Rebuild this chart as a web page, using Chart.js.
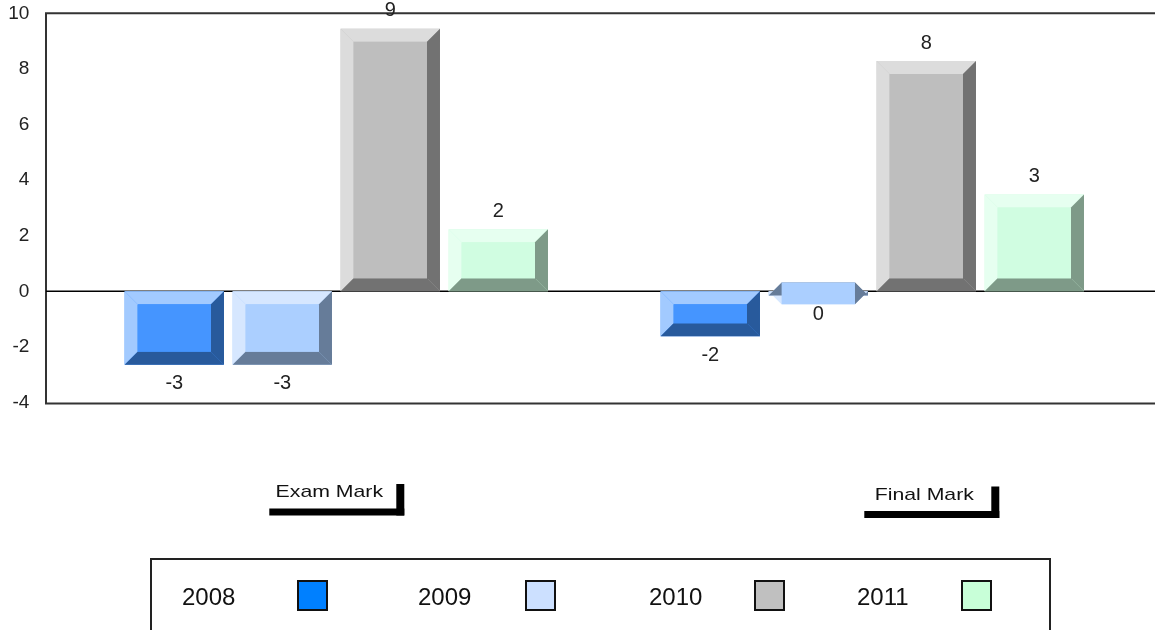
<!DOCTYPE html>
<html>
<head>
<meta charset="utf-8">
<title>Exam / Final Mark</title>
<script src="https://cdn.jsdelivr.net/npm/chart.js@4.4.1/dist/chart.umd.min.js"></script>
<style>
  html, body { margin: 0; padding: 0; background: #fff; }
  #wrap { width: 1155px; height: 630px; }
</style>
</head>
<body>
<div id="wrap"><canvas id="marksChart" width="1155" height="630"></canvas></div>
<script>
// Mark change per year, two categories, one series per year
const categories = ['Exam Mark', 'Final Mark'];
const years = ['2008', '2009', '2010', '2011'];
const values2008 = [-2.64, -1.62];
const values2009 = [-2.64, -0.15];
const values2010 = [9.44, 8.28];
const values2011 = [2.23, 3.48];
const yTicks = [10, 8, 6, 4, 2, 0, -2, -4];

// bevel colours per series (face / light edge / dark edge) and legend swatch
const faceColors = ['#4595ff', '#abcfff', '#bebebe', '#d0fde1'];
const lightColors = ['#a2caff', '#d6e7ff', '#dcdcdc', '#e6fff0'];
const darkColors = ['#285a9c', '#667c99', '#727272', '#7e9a88'];
const legendColors = ['#0080ff', '#cce0ff', '#c0c0c0', '#c8ffd8'];

const FONT = '"Liberation Sans", Arial, sans-serif';
const BEVEL = 13;

// fixed layout bits for the hand drawn parts
const catLabelShift = [-7, 52];
const catLabelDrop = [0, 2.5];
const legendTextX = [182, 418, 649, 857];
const legendBoxX = [298, 526, 755, 962];

function poly(ctx, color, pts) {
  ctx.fillStyle = color;
  ctx.beginPath();
  ctx.moveTo(pts[0][0], pts[0][1]);
  for (let k = 1; k < pts.length; k++) ctx.lineTo(pts[k][0], pts[k][1]);
  ctx.closePath();
  ctx.fill();
}

// frame + zero line, under the bars
const framePlugin = {
  id: 'frame',
  beforeDatasetsDraw(chart) {
    const { ctx, chartArea: a, scales: { y } } = chart;
    const left = a.left - 22.3;
    ctx.save();
    ctx.strokeStyle = '#333';
    ctx.lineWidth = 2;
    ctx.beginPath();
    ctx.moveTo(chart.width, a.top);
    ctx.lineTo(left, a.top);
    ctx.lineTo(left, a.bottom + 1);
    ctx.lineTo(chart.width, a.bottom + 1);
    ctx.stroke();
    const y0 = y.getPixelForValue(0);
    ctx.strokeStyle = '#000';
    ctx.lineWidth = 1.5;
    ctx.beginPath();
    ctx.moveTo(left, y0);
    ctx.lineTo(chart.width, y0);
    ctx.stroke();
    ctx.restore();
  }
};

// bevelled look + value labels on top of chart.js bars
const bevelPlugin = {
  id: 'bevel',
  afterDatasetsDraw(chart) {
    const ctx = chart.ctx;
    ctx.save();
    chart.data.datasets.forEach((ds, i) => {
      const meta = chart.getDatasetMeta(i);
      meta.data.forEach((bar, j) => {
        const { x, y, base, width } = bar.getProps(['x', 'y', 'base', 'width'], true);
        const x0 = x - width / 2, x1 = x + width / 2;
        const t = Math.min(y, base), b = Math.max(y, base);
        const e = BEVEL;
        poly(ctx, lightColors[i], [[x0, t], [x0 + e, t + e], [x0 + e, b - e], [x0, b]]);
        poly(ctx, lightColors[i], [[x0, t], [x1, t], [x1 - e, t + e], [x0 + e, t + e]]);
        poly(ctx, darkColors[i], [[x1, t], [x1, b], [x1 - e, b - e], [x1 - e, t + e]]);
        poly(ctx, darkColors[i], [[x0, b], [x1, b], [x1 - e, b - e], [x0 + e, b - e]]);
        ctx.fillStyle = faceColors[i];
        const it = Math.min(t + e, b - e), ib = Math.max(t + e, b - e);
        ctx.fillRect(x0 + e, it, width - 2 * e, ib - it);

        const v = ds.data[j];
        let txt = Math.round(v);
        if (txt === 0) txt = 0;
        ctx.fillStyle = '#222';
        ctx.font = '20px ' + FONT;
        ctx.textAlign = 'center';
        ctx.textBaseline = 'middle';
        ctx.fillText(String(txt), x, v >= 0 ? y - 18 : y + 19);
      });
    });
    ctx.restore();
  }
};

// category labels with the bracket marks, and the boxed legend
const extrasPlugin = {
  id: 'extras',
  afterDraw(chart) {
    const { ctx, scales: { x } } = chart;
    ctx.save();
    categories.forEach((name, i) => {
      const cx = x.getPixelForValue(i) + catLabelShift[i];
      const dy = catLabelDrop[i];
      ctx.fillStyle = '#111';
      ctx.font = '17px ' + FONT;
      ctx.textAlign = 'center';
      ctx.textBaseline = 'alphabetic';
      ctx.save();
      ctx.translate(cx, 497 + dy);
      ctx.scale(1.25, 1);
      ctx.fillText(name, 0, 0);
      ctx.restore();
      ctx.fillStyle = '#000';
      ctx.fillRect(cx - 60, 508.5 + dy, 135, 7);
      ctx.fillRect(cx + 67, 484 + dy, 8, 31.5);
    });

    ctx.strokeStyle = '#222';
    ctx.lineWidth = 2;
    ctx.beginPath();
    ctx.moveTo(151, chart.height + 5);
    ctx.lineTo(151, 559);
    ctx.lineTo(1050, 559);
    ctx.lineTo(1050, chart.height + 5);
    ctx.stroke();

    chart.data.datasets.forEach((ds, i) => {
      ctx.fillStyle = '#111';
      ctx.font = '24px ' + FONT;
      ctx.textAlign = 'left';
      ctx.textBaseline = 'alphabetic';
      ctx.fillText(ds.label, legendTextX[i], 604.5);
      ctx.fillStyle = legendColors[i];
      ctx.fillRect(legendBoxX[i], 581, 29, 29);
      ctx.strokeStyle = '#111';
      ctx.lineWidth = 2;
      ctx.strokeRect(legendBoxX[i], 581, 29, 29);
    });
    ctx.restore();
  }
};

const seriesValues = [values2008, values2009, values2010, values2011];

const ctx = document.getElementById('marksChart').getContext('2d');
new Chart(ctx, {
  type: 'bar',
  data: {
    labels: categories,
    datasets: years.map((yr, i) => ({
      label: yr,
      data: seriesValues[i],
      backgroundColor: faceColors[i],
      borderWidth: 0
    }))
  },
  options: {
    responsive: false,
    animation: false,
    layout: { padding: { top: 13.3, right: 14.7, bottom: 227.5, left: 0 } },
    datasets: { bar: { categoryPercentage: 0.806, barPercentage: 0.92 } },
    plugins: {
      legend: { display: false },
      tooltip: { enabled: false }
    },
    scales: {
      x: { display: false, offset: true },
      y: {
        min: -4,
        max: 10,
        afterFit(scale) {
          scale.width = 68.3;
          scale.paddingTop = 10;
          scale.paddingBottom = 10;
        },
        afterBuildTicks(scale) { scale.ticks = yTicks.map(v => ({ value: v })); },
        grid: { display: false, drawTicks: false },
        border: { display: false },
        ticks: { padding: 39, color: '#222', font: { family: FONT, size: 19 } }
      }
    }
  },
  plugins: [framePlugin, bevelPlugin, extrasPlugin]
});
</script>
</body>
</html>
